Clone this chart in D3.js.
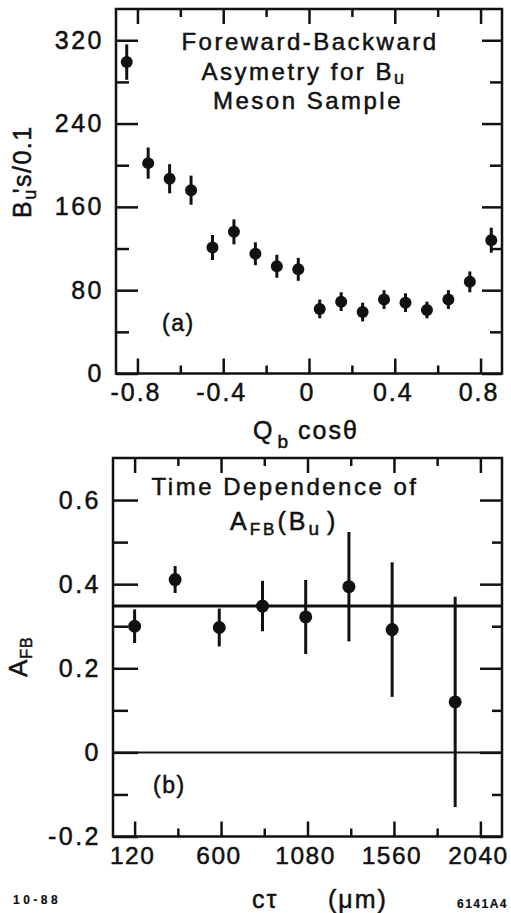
<!DOCTYPE html>
<html>
<head>
<meta charset="utf-8">
<script src="https://cdn.jsdelivr.net/npm/d3@7"></script>
<style>
  body { margin: 0; background: #fff; }
  svg text { font-family: "Liberation Sans", Arial, sans-serif; fill: #111; stroke: #111; stroke-width: 0.5px; }
</style>
</head>
<body>
<div id="chart"></div>
<script>
// panel (a): B_u counts per 0.1 in Q_b cos(theta)
var qcos = [-0.85, -0.75, -0.65, -0.55, -0.45, -0.35, -0.25, -0.15, -0.05,
            0.05, 0.15, 0.25, 0.35, 0.45, 0.55, 0.65, 0.75, 0.85]
var counts = [299, 202, 187, 176, 121, 136, 115, 103, 100,
              62, 69, 59, 71, 68, 61, 71, 88, 128]
var countErr = [17, 15, 14, 14, 12, 12, 11, 11, 11,
                9, 9, 9, 9, 9, 8, 9, 10, 12]

// panel (b): A_FB vs c tau
var ctau = [120, 345, 590, 830, 1070, 1310, 1550, 1900]
var afb = [0.300, 0.411, 0.297, 0.348, 0.322, 0.394, 0.292, 0.120]
var afbErr = [0.040, 0.032, 0.045, 0.060, 0.088, 0.130, 0.160, 0.250]
var afbFit = 0.348

var topMajorY = [0, 80, 160, 240, 320]
var topMinorY = [40, 120, 200, 280]
var topMajorX = [-0.8, -0.4, 0, 0.4, 0.8]
var topMinorX = [-0.6, -0.2, 0.2, 0.6]
var botMajorY = [-0.2, 0, 0.2, 0.4, 0.6]
var botMinorY = [-0.1, 0.1, 0.3, 0.5]
var botMajorX = [120, 600, 1080, 1560, 2040]
var botMinorX = [360, 840, 1320, 1800]

var width = 511, height = 913

var svg = d3.select("#chart")
    .append("svg")
        .attr("width", width)
        .attr("height", height)

// draws framed box with inward ticks on all four sides
function frame(x, y, majX, minX, majY, minY, tl, tlMin, xfont) {
    var x0 = x.range()[0], x1 = x.range()[1]
    var y0 = y.range()[0], y1 = y.range()[1]
    var g = svg.append("g")

    function style(f) {
        return function(sel) {
            sel.select(".domain").remove()
            sel.selectAll("line").attr("stroke", "#111").attr("stroke-width", 2.5)
            sel.selectAll("text")
                .style("font-size", f.size + "px")
                .style("letter-spacing", f.ls + "px")
                .attr("dx", f.dx)
                .attr("fill", "#111")
        }
    }
    var none = {size: 25, ls: 0, dx: 0}

    g.append("g").attr("transform", "translate(" + x0 + ",0)")
        .call(d3.axisLeft(y).tickValues(majY).tickSize(-tl.left).tickPadding(12).tickFormat(String))
        .call(style({size: 25, ls: 2.5, dx: 0}))
    g.append("g").attr("transform", "translate(" + x0 + ",0)")
        .call(d3.axisLeft(y).tickValues(minY).tickSize(-tlMin.left).tickFormat("")).call(style(none))
    g.append("g").attr("transform", "translate(" + x1 + ",0)")
        .call(d3.axisRight(y).tickValues(majY).tickSize(-tl.right).tickFormat("")).call(style(none))
    g.append("g").attr("transform", "translate(" + x1 + ",0)")
        .call(d3.axisRight(y).tickValues(minY).tickSize(-tlMin.right).tickFormat("")).call(style(none))
    g.append("g").attr("transform", "translate(0," + y0 + ")")
        .call(d3.axisBottom(x).tickValues(majX).tickSize(-15).tickPadding(10).tickFormat(String))
        .call(style(xfont))
    g.append("g").attr("transform", "translate(0," + y0 + ")")
        .call(d3.axisBottom(x).tickValues(minX).tickSize(-8).tickFormat("")).call(style(none))
    g.append("g").attr("transform", "translate(0," + y1 + ")")
        .call(d3.axisTop(x).tickValues(majX).tickSize(-15).tickFormat("")).call(style(none))
    g.append("g").attr("transform", "translate(0," + y1 + ")")
        .call(d3.axisTop(x).tickValues(minX).tickSize(-8).tickFormat("")).call(style(none))

    g.append("rect")
        .attr("x", x0).attr("y", y1)
        .attr("width", x1 - x0).attr("height", y0 - y1)
        .attr("fill", "none")
        .attr("stroke", "#111")
        .attr("stroke-width", 2.5)
    return g
}

function points(x, y, xs, ys, es, r) {
    var idx = d3.range(xs.length)
    svg.selectAll(null)
        .data(idx)
        .enter()
        .append("line")
            .attr("x1", function(i){ return x(xs[i]) })
            .attr("x2", function(i){ return x(xs[i]) })
            .attr("y1", function(i){ return y(ys[i] - es[i]) })
            .attr("y2", function(i){ return y(ys[i] + es[i]) })
            .attr("stroke", "#111")
            .attr("stroke-width", 3)
    svg.selectAll(null)
        .data(idx)
        .enter()
        .append("circle")
            .attr("cx", function(i){ return x(xs[i]) })
            .attr("cy", function(i){ return y(ys[i]) })
            .attr("r", r)
            .attr("fill", "#111")
}

// ---- panel (a)
var xa = d3.scaleLinear().domain([-0.9, 0.9]).range([116, 502])
var ya = d3.scaleLinear().domain([0, 350]).range([373.5, 9])

frame(xa, ya, topMajorX, topMinorX, topMajorY, topMinorY,
      {left: 22, right: 20}, {left: 13, right: 12}, {size: 25, ls: 2, dx: -2})
points(xa, ya, qcos, counts, countErr, 6)

var titleA = ["Foreward-Backward", "Asymetry for B", "Meson Sample"]
svg.append("text").attr("x", 310).attr("y", 50).attr("text-anchor", "middle")
    .style("font-size", "24px").style("letter-spacing", "2.5px").text(titleA[0])
var t2 = svg.append("text").attr("x", 304).attr("y", 80).attr("text-anchor", "middle")
    .style("font-size", "24px").style("letter-spacing", "2.5px")
t2.append("tspan").text(titleA[1])
t2.append("tspan").attr("dy", 4).style("font-size", "18px").text("u")
svg.append("text").attr("x", 308).attr("y", 109).attr("text-anchor", "middle")
    .style("font-size", "24px").style("letter-spacing", "2.5px").text(titleA[2])

svg.append("text").attr("x", 162).attr("y", 331)
    .style("font-size", "23px").style("letter-spacing", "1.5px").text("(a)")

var xlabA = svg.append("text").attr("x", 253).attr("y", 439)
    .style("font-size", "25px").style("letter-spacing", "2px")
xlabA.append("tspan").text("Q")
xlabA.append("tspan").attr("dy", 9).attr("dx", 3).style("font-size", "19px").text("b")
xlabA.append("tspan").attr("dy", -9).attr("dx", 8).text("cos\u03b8")

var ylabA = svg.append("text")
    .attr("transform", "translate(31,218) rotate(-90)")
    .style("font-size", "25px").style("letter-spacing", "1.5px")
ylabA.append("tspan").text("B")
ylabA.append("tspan").attr("dy", 5).style("font-size", "18px").text("u")
ylabA.append("tspan").attr("dy", -5).attr("dx", -5).text("'s/0.1")

// ---- panel (b)
var xb = d3.scaleLinear().domain([0, 2160]).range([113, 502])
var yb = d3.scaleLinear().domain([-0.2, 0.7]).range([836.5, 458])

frame(xb, yb, botMajorX, botMinorX, botMajorY, botMinorY,
      {left: 25, right: 22}, {left: 15, right: 10}, {size: 24.5, ls: 1.5, dx: -2.5})

svg.append("line")
    .attr("x1", xb.range()[0]).attr("x2", xb.range()[1])
    .attr("y1", yb(0)).attr("y2", yb(0))
    .attr("stroke", "#111").attr("stroke-width", 2)
svg.append("line")
    .attr("x1", xb.range()[0]).attr("x2", xb.range()[1])
    .attr("y1", yb(afbFit)).attr("y2", yb(afbFit))
    .attr("stroke", "#111").attr("stroke-width", 3)

points(xb, yb, ctau, afb, afbErr, 6.5)

svg.append("text").attr("x", 285).attr("y", 495).attr("text-anchor", "middle")
    .style("font-size", "24px").style("letter-spacing", "2.5px").text("Time Dependence of")
var t3 = svg.append("text").attr("x", 230).attr("y", 530)
    .style("font-size", "25px").style("letter-spacing", "3px")
t3.append("tspan").text("A")
t3.append("tspan").attr("dy", 5).style("font-size", "17px").text("FB")
t3.append("tspan").attr("dy", -5).text("(B")
t3.append("tspan").attr("dy", 5).style("font-size", "19px").text("u")
t3.append("tspan").attr("dy", -5).attr("dx", 5).text(")")

svg.append("text").attr("x", 153).attr("y", 793)
    .style("font-size", "23px").style("letter-spacing", "1.5px").text("(b)")

var ylabB = svg.append("text")
    .attr("transform", "translate(27,677) rotate(-90)")
    .style("font-size", "26px").style("letter-spacing", "1px")
ylabB.append("tspan").text("A")
ylabB.append("tspan").attr("dy", 5).style("font-size", "16px").text("FB")

svg.append("text").attr("x", 252).attr("y", 908)
    .style("font-size", "25px").style("letter-spacing", "2px").text("c\u03c4")
svg.append("text").attr("x", 328).attr("y", 908)
    .style("font-size", "25px").style("letter-spacing", "2px").text("(\u03bcm)")

svg.append("text").attr("x", 13).attr("y", 904)
    .style("font-size", "12px").style("font-weight", "bold").style("letter-spacing", "3.5px")
    .style("stroke-width", "0.2px").text("10-88")
svg.append("text").attr("x", 457).attr("y", 908)
    .style("font-size", "12px").style("font-weight", "bold").style("letter-spacing", "1.5px")
    .style("stroke-width", "0.2px").text("6141A4")
</script>
</body>
</html>
